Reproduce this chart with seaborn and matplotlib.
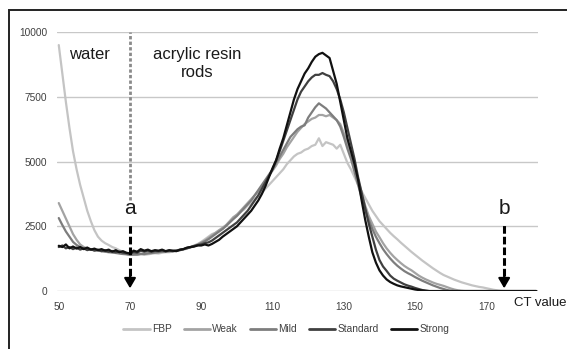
import numpy as np
import pandas as pd
import seaborn as sns
from matplotlib import pyplot as plt
from matplotlib.patches import Rectangle

# CT values 50..184 (one reading per CT value)
ct = list(range(50, 185))

fbp = [9500, 8400, 7300, 6300, 5400, 4700, 4100, 3600, 3100, 2700,
       2350, 2100, 1950, 1850, 1780, 1700, 1650, 1580, 1520, 1460,
       1420, 1400, 1400, 1420, 1400, 1420, 1440, 1460, 1450, 1480,
       1500, 1500, 1520, 1560, 1580, 1600, 1640, 1700, 1760, 1820,
       1900, 2000, 2100, 2200, 2250, 2350, 2400, 2550, 2700, 2850,
       2950, 3050, 3150, 3300, 3400, 3550, 3650, 3800, 3950, 4100,
       4250, 4400, 4550, 4700, 4900, 5050, 5200, 5300, 5350, 5450,
       5500, 5600, 5650, 5900, 5600, 5750, 5700, 5650, 5500, 5650,
       5300, 4950, 4700, 4400, 4100, 3850, 3600, 3350, 3100, 2900,
       2700, 2550, 2400, 2250, 2120, 2000, 1870, 1750, 1630, 1510,
       1400, 1290, 1180, 1080, 980, 880, 790, 700, 620, 560,
       500, 440, 390, 340, 300, 260, 220, 190, 160, 140,
       110, 80, 50, 30, 10, 0, 0, 0, 0, 0,
       0, 0, 0, 0, 0]

weak = [3400, 3100, 2800, 2500, 2200, 1980, 1800, 1700, 1650, 1620,
        1600, 1580, 1560, 1540, 1520, 1500, 1480, 1470, 1450, 1430,
        1400, 1420, 1400, 1430, 1440, 1450, 1470, 1480, 1500, 1510,
        1520, 1530, 1550, 1570, 1600, 1620, 1660, 1700, 1750, 1800,
        1880, 1950, 2050, 2150, 2250, 2350, 2450, 2550, 2700, 2850,
        2950, 3100, 3250, 3400, 3550, 3700, 3850, 4050, 4250, 4450,
        4650, 4850, 5100, 5300, 5550, 5750, 5950, 6150, 6300, 6450,
        6550, 6650, 6700, 6800, 6800, 6750, 6800, 6700, 6600, 6450,
        6100, 5700, 5300, 4800, 4300, 3800, 3300, 2900, 2600, 2300,
        2080, 1850, 1650, 1480, 1330, 1200, 1080, 970, 880, 800,
        700, 600, 520, 450, 390, 330, 280, 240, 200, 150,
        100, 60, 30, 10, 0, 0, 0, 0, 0, 0,
        0, 0, 0, 0, 0, 0, 0, 0, 0, 0,
        0, 0, 0, 0, 0]

mild = [2820, 2550, 2300, 2100, 1900, 1780, 1700, 1650, 1620, 1600,
        1580, 1560, 1540, 1520, 1500, 1490, 1470, 1450, 1430, 1420,
        1400, 1410, 1420, 1440, 1430, 1460, 1470, 1490, 1500, 1520,
        1520, 1540, 1550, 1560, 1590, 1620, 1650, 1690, 1730, 1780,
        1850, 1920, 2000, 2100, 2200, 2300, 2400, 2520, 2650, 2780,
        2900, 3050, 3200, 3350, 3500, 3700, 3900, 4100, 4300, 4500,
        4700, 4950, 5200, 5450, 5700, 5950, 6100, 6250, 6350, 6400,
        6700, 6900, 7100, 7250, 7150, 7050, 6900, 6750, 6600, 6350,
        5950, 5500, 5100, 4600, 4100, 3600, 3150, 2750, 2400, 2100,
        1850, 1620, 1430, 1260, 1110, 980, 870, 770, 690, 620,
        540, 470, 400, 340, 280, 220, 170, 120, 80, 40,
        10, 0, 0, 0, 0, 0, 0, 0, 0, 0,
        0, 0, 0, 0, 0, 0, 0, 0, 0, 0,
        0, 0, 0, 0, 0]

standard = [1700, 1760, 1650, 1700, 1620, 1680, 1600, 1650, 1580, 1620,
            1560, 1600, 1540, 1580, 1520, 1550, 1500, 1530, 1480, 1460,
            1440, 1500, 1480, 1560, 1520, 1560, 1520, 1550, 1540, 1560,
            1540, 1560, 1540, 1560, 1580, 1620, 1660, 1700, 1740, 1780,
            1800, 1850, 1880, 1950, 2050, 2150, 2250, 2350, 2450, 2550,
            2650, 2800, 2950, 3100, 3300, 3500, 3700, 3950, 4200, 4450,
            4700, 5050, 5400, 5800, 6200, 6600, 7000, 7400, 7700, 7900,
            8100, 8250, 8350, 8350, 8420, 8350, 8300, 8100, 7800, 7400,
            6900, 6300, 5700, 5100, 4400, 3800, 3200, 2600, 2100, 1600,
            1200, 950, 780, 600, 480, 400, 330, 260, 210, 170,
            120, 80, 40, 15, 0, 0, 0, 0, 0, 0,
            0, 0, 0, 0, 0, 0, 0, 0, 0, 0,
            0, 0, 0, 0, 0, 0, 0, 0, 0, 0,
            0, 0, 0, 0, 0]

strong = [1750, 1700, 1800, 1650, 1720, 1640, 1700, 1620, 1680, 1600,
          1640, 1580, 1620, 1560, 1600, 1520, 1580, 1500, 1540, 1480,
          1450, 1560, 1520, 1620, 1560, 1600, 1540, 1580, 1560, 1600,
          1540, 1580, 1560, 1540, 1600, 1620, 1680, 1700, 1720, 1760,
          1760, 1800, 1760, 1820, 1900, 1980, 2100, 2200, 2300, 2400,
          2500, 2650, 2800, 2950, 3100, 3300, 3500, 3750, 4050, 4400,
          4750, 5050, 5500, 5900, 6400, 6900, 7400, 7800, 8100, 8400,
          8600, 8850, 9050, 9150, 9200, 9100, 9000, 8500, 8000, 7300,
          6600, 5900, 5400, 4900, 4300, 3500, 2750, 2100, 1500, 1100,
          800, 600, 450, 350, 280, 220, 180, 150, 120, 90,
          60, 40, 20, 10, 0, 0, 0, 0, 0, 0,
          0, 0, 0, 0, 0, 0, 0, 0, 0, 0,
          0, 0, 0, 0, 0, 0, 0, 0, 0, 0,
          0, 0, 0, 0, 0]

names = ['FBP', 'Weak', 'Mild', 'Standard', 'Strong']
colors = ['#c4c4c4', '#a3a3a3', '#7d7d7d', '#404040', '#111111']
y_ticks = [0, 2500, 5000, 7500, 10000]
x_ticks = [50, 70, 90, 110, 130, 150, 170]

df = pd.DataFrame({'ct': ct, 'FBP': fbp, 'Weak': weak, 'Mild': mild,
                   'Standard': standard, 'Strong': strong})
long = df.melt(id_vars='ct', var_name='filter', value_name='count')

sns.set_style('white')
plt.rcParams['font.family'] = ['Liberation Sans', 'DejaVu Sans']

fig = plt.figure(figsize=(5.67, 3.49), dpi=100)
ax = fig.add_axes([0.1005, 0.166, 0.8484, 0.742])

sns.lineplot(data=long, x='ct', y='count', hue='filter', hue_order=names,
             palette=colors, linewidth=1.6, ax=ax, legend=True)

ax.set_xlim(49.5, 184.5)
ax.set_ylim(0, 10000)
ax.set_xticks(x_ticks)
ax.set_yticks(y_ticks)
ax.set_xticklabels([str(v) for v in x_ticks])
ax.set_yticklabels([str(v) for v in y_ticks])
ax.tick_params(axis='both', length=0, labelsize=7.3, labelcolor='#404040')
ax.tick_params(axis='y', pad=7)
ax.tick_params(axis='x', pad=8)
ax.grid(axis='y', color='#c8c8c8', linewidth=1.0)
ax.set_axisbelow(True)
for s in ax.spines.values():
    s.set_visible(False)
ax.set_xlabel('')
ax.set_ylabel('')

# region labels
ax.text(0.026, 0.915, 'water', transform=ax.transAxes, fontsize=12,
        ha='left', va='center', color='#1a1a1a')
ax.text(0.291, 0.880, 'acrylic resin\nrods', transform=ax.transAxes,
        fontsize=12, ha='center', va='center', color='#1a1a1a',
        linespacing=1.25)

# boundary line between water and rods
ax.plot([70, 70], [3500, 10000], color='#8a8a8a', lw=2,
        linestyle=(0, (1.2, 0.8)))

# markers a and b
for xv, lab in [(70, 'a'), (175, 'b')]:
    ax.plot([xv, xv], [600, 2600], color='black', lw=2.2,
            linestyle=(0, (2.5, 1.0)))
    ax.annotate('', xy=(xv, 0), xytext=(xv, 700),
                arrowprops=dict(arrowstyle='-|>,head_width=0.35,head_length=0.6',
                                color='black', lw=1.5))
    ax.text(xv, 3200, lab, fontsize=15, ha='center', va='center',
            color='#1a1a1a')

fig.text(0.952, 0.132, 'CT value', fontsize=9.5, ha='center', va='center',
         color='#1a1a1a')

leg = ax.legend(loc='center', bbox_to_anchor=(0.505, 0.057),
                bbox_transform=fig.transFigure, ncol=5, frameon=False,
                fontsize=7.3, handlelength=2.6, handletextpad=0.2,
                columnspacing=1.2)
for t in leg.get_texts():
    t.set_color('#404040')
for h in leg.get_lines():
    h.set_linewidth(2)

fig.patches.append(Rectangle((9 / 567, -0.1), 2, 1.1 - 10 / 349,
                             transform=fig.transFigure, fill=False,
                             edgecolor='#222222', lw=1.4))

fig.savefig('out.png', dpi=100)
